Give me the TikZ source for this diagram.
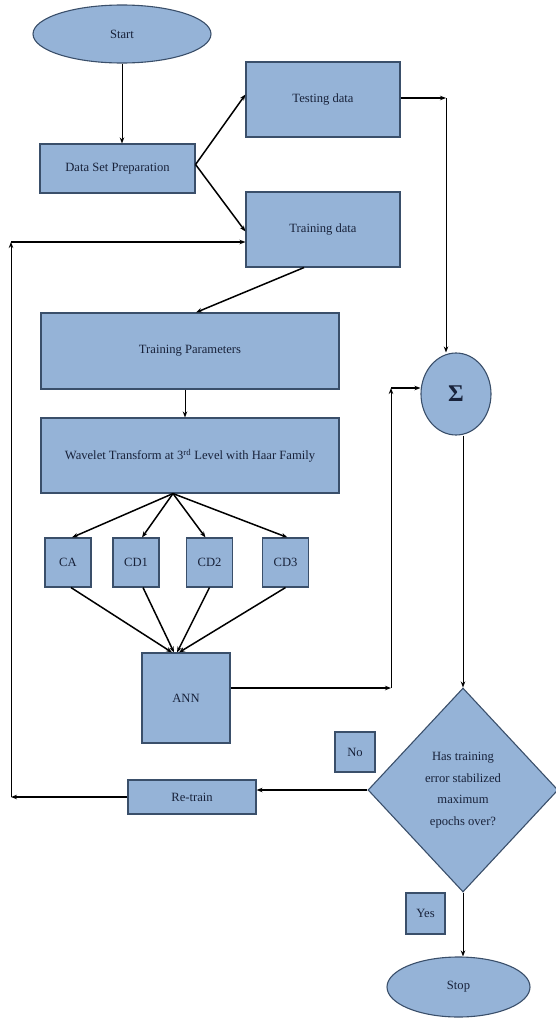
\documentclass[tikz,border=0pt]{standalone}
\usepackage{fontspec}
\setmainfont{Liberation Serif}
\usetikzlibrary{shapes.geometric,arrows.meta}
\definecolor{boxfill}{HTML}{95B3D7}
\definecolor{boxline}{HTML}{3A4F6A}
\definecolor{txt}{HTML}{18223A}
\begin{document}
\begin{tikzpicture}[x=1pt,y=-1pt,
  box/.style={rectangle,draw=boxline,fill=boxfill,line width=1.1pt,inner sep=0pt,text=txt,font=\fontsize{12.6}{14}\selectfont},
  oval/.style={ellipse,draw=boxline,fill=boxfill,line width=1.1pt,inner sep=0pt,text=txt,font=\fontsize{12.6}{14}\selectfont},
  decision/.style={diamond,draw=boxline,fill=boxfill,line width=1.1pt,inner sep=0pt,text=txt,align=center,font=\fontsize{12.6}{21.5}\selectfont},
  arr/.style={-{Stealth[length=6pt,width=4.5pt]},line width=0.9pt,draw=black},
  arrb/.style={arr,line width=1.5pt}]
\useasboundingbox (0,0) rectangle (555,1020);
% nodes
\node[oval,minimum width=178pt,minimum height=58pt] (start) at (122,34) {Start};
\node[box,minimum width=155pt,minimum height=49pt] (dsp) at (117.5,168.5) {Data Set Preparation};
\node[box,minimum width=154pt,minimum height=75pt] (test) at (323,99.5) {Testing data};
\node[box,minimum width=154pt,minimum height=75pt] (train) at (323,229.5) {Training data};
\node[box,minimum width=298pt,minimum height=76pt] (tp) at (190,351) {Training Parameters};
\node[box,minimum width=298pt,minimum height=75pt] (wt) at (190,455.5) {Wavelet Transform at 3\textsuperscript{rd} Level with Haar Family};
\node[box,minimum width=46pt,minimum height=49pt] (ca) at (68,562.5) {CA};
\node[box,minimum width=46pt,minimum height=49pt] (cd1) at (136,562.5) {CD1};
\node[box,minimum width=46pt,minimum height=49pt] (cd2) at (209.5,562.5) {CD2};
\node[box,minimum width=46pt,minimum height=49pt] (cd3) at (285.5,562.5) {CD3};
\node[box,minimum width=88pt,minimum height=90pt] (ann) at (186,698) {ANN};
\node[oval,minimum width=70pt,minimum height=82pt,font=\fontsize{24}{24}\selectfont\bfseries] (sigma) at (456,394) {Σ};
\node[decision,minimum width=190pt,minimum height=204pt] (dec) at (463,790) {Has training\\error stabilized\\maximum\\epochs over?};
\node[box,minimum width=128pt,minimum height=34pt] (retrain) at (192,797) {Re-train};
\node[box,minimum width=40pt,minimum height=40pt] (no) at (355,752) {No};
\node[box,minimum width=39pt,minimum height=41pt] (yes) at (425.5,913.5) {Yes};
\node[oval,minimum width=143pt,minimum height=60pt] (stop) at (458.5,987) {Stop};
% corner coordinates
\coordinate (tc) at (446,98);
\coordinate (ac) at (391,688);
\coordinate (ac2) at (391,388);
\coordinate (lc) at (11,797);
\coordinate (lt) at (11,242);
% connectors
\draw[arr] (start.south) -- (start.south |- dsp.north);
\draw[arrb] ([yshift=4pt]dsp.east) -- ([yshift=5pt]test.west);
\draw[arrb] ([yshift=4pt]dsp.east) -- ([yshift=-2pt]train.west);
\draw[arrb] ([yshift=1.5pt]test.east) -- (tc);
\draw[arr] (tc) -- (tc |- sigma.north);
\draw[arrb] ([xshift=-19pt]train.south) -- ([xshift=6pt]tp.north);
\draw[arr] ([xshift=-5pt]tp.south) -- ([xshift=-5pt]wt.north);
\coordinate (wtb) at ([xshift=-17pt]wt.south);
\draw[arrb] (wtb) -- ([xshift=4pt]ca.north);
\draw[arrb] (wtb) -- ([xshift=6pt]cd1.north);
\draw[arrb] (wtb) -- ([xshift=-4pt]cd2.north);
\draw[arrb] (wtb) -- ([xshift=2pt]cd3.north);
\draw[arrb] ([xshift=3pt]ca.south) -- ([xshift=-14pt]ann.north);
\draw[arrb] ([xshift=7pt]cd1.south) -- ([xshift=-12pt]ann.north);
\draw[arrb] (cd2.south) -- ([xshift=-9pt]ann.north);
\draw[arrb] (cd3.south) -- ([xshift=-7pt]ann.north);
\draw[arrb] ([yshift=10pt]ann.east) -- (ac);
\draw[arr] (ac) -- (ac2);
\draw[arrb] (ac2) -- (sigma.west |- ac2);
\draw[arr] (dec.north |- sigma.south) -- (dec.north);
\draw[arrb] (dec.west) -- (retrain.east |- dec.west);
\draw[arrb] (retrain.west) -- (lc);
\draw[arr] (lc) -- (lt);
\draw[arrb] (lt) -- (train.west |- lt);
\draw[arr] (dec.south) -- (dec.south |- stop.north);
\end{tikzpicture}
\end{document}
